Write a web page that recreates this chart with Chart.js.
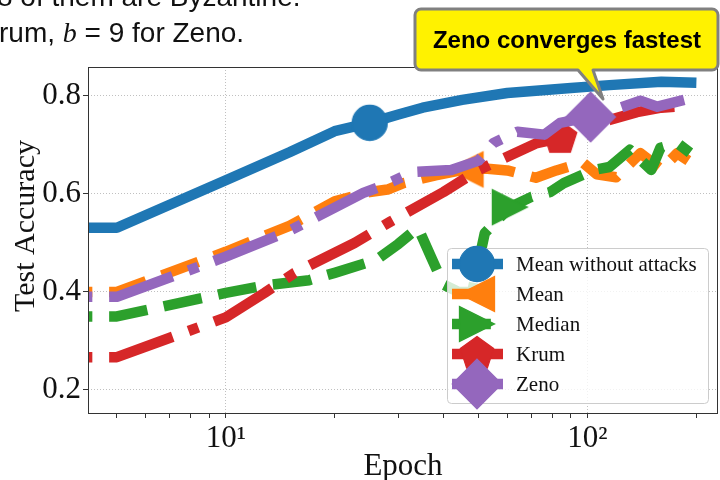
<!DOCTYPE html>
<html>
<head>
<meta charset="utf-8">
<script src="https://cdn.jsdelivr.net/npm/chart.js@4.4.0/dist/chart.umd.min.js"></script>
<style>
  body { margin: 0; background: #fff; }
  #wrap { position: relative; width: 720px; height: 480px; overflow: hidden; }
  canvas { position: absolute; left: 0; top: 0; }
  .slide { position: absolute; font-family: "Liberation Sans", Arial, sans-serif; font-size: 28px;
           line-height: 32px; color: #111; white-space: nowrap; }
  .slide i { font-family: "Liberation Serif", serif; }
</style>
</head>
<body>
<div id="wrap">
  <canvas id="chart" width="720" height="480"></canvas>
  <div class="slide" style="left:-3px; top:-19px;">8 of them are Byzantine.</div>
  <div class="slide" style="left:-1px; top:17px;">rum, <i>b</i> = 9 for Zeno.</div>
</div>
<script>
// series names
const SERIES = ['Mean without attacks', 'Mean', 'Median', 'Krum', 'Zeno'];

// epochs / test accuracy
const NOATTACK_X = [4, 5, 10, 15, 20, 25, 30, 35, 45, 60, 90, 115, 160, 200];
const NOATTACK_Y = [.531, .531, .628, .685, .728, .745, .762, .776, .792, .806, .816, .822, .829, .827];

const MEAN_X = [4, 5, 10, 15, 20, 25, 28, 31, 38, 46, 52, 60, 72, 82, 97, 106, 120, 140, 160, 177, 190];
const MEAN_Y = [.400, .400, .482, .535, .585, .604, .609, .622, .638, .650, .652, .648, .633, .648, .664, .640, .634, .683, .650, .683, .668];

const MEDIAN_X = [4, 5, 10, 13, 17, 20, 26, 30, 34, 37, 40, 44, 48, 52, 61, 70, 79, 86, 104, 115, 131, 140, 150, 159, 177, 192];
const MEDIAN_Y = [.350, .350, .398, .414, .424, .439, .465, .498, .531, .470, .415, .400, .400, .520, .573, .594, .604, .622, .649, .655, .690, .670, .649, .694, .704, .684];

const KRUM_X = [4, 5, 10, 12.8, 15.5, 22.7, 28.6, 40, 50, 60, 72, 84, 94, 115, 137, 160, 190];
const KRUM_Y = [.267, .267, .348, .398, .439, .500, .544, .604, .649, .676, .703, .714, .731, .751, .767, .776, .780];

const ZENO_X = [4, 5, 10, 15, 20, 24, 27, 33, 42, 50, 55, 64, 76, 84, 102, 118, 140, 156, 185];
const ZENO_Y = [.390, .390, .472, .525, .572, .602, .616, .645, .649, .668, .704, .727, .721, .745, .757, .771, .790, .778, .792];

// the one epoch per series that carries a marker
const MARK_AT = [25, 46, 61, 84, 102];

// axis ticks
const X_TICKS = [5, 6, 7, 8, 9, 10, 20, 30, 40, 50, 60, 70, 80, 90, 100, 200];
const X_TICK_LABELS = { 10: '10\u00B9', 100: '10\u00B2' };
const Y_TICKS = [0.2, 0.4, 0.6, 0.8];

const COLORS = ['#1f77b4', '#ff7f0e', '#2ca02c', '#d62728', '#9467bd'];
const LW = 10.5;
const DASHED = [3.7 * LW, 1.6 * LW];
const DASHDOT = [6.4 * LW, 1.6 * LW, 1 * LW, 1.6 * LW];
const DASHES = [[], DASHED, DASHED, DASHDOT, DASHDOT];
const SHAPES = ['circle', 'tri-left', 'tri-right', 'pentagon', 'diamond'];
const SERIF = '"Liberation Serif", "Times New Roman", serif';

function shapePath(g, shape, r) {
  g.beginPath();
  if (shape === 'circle') {
    g.arc(0, 0, r, 0, Math.PI * 2);
  } else if (shape === 'tri-left') {
    g.moveTo(-r, 0); g.lineTo(r, -r); g.lineTo(r, r); g.closePath();
  } else if (shape === 'tri-right') {
    g.moveTo(r, 0); g.lineTo(-r, r); g.lineTo(-r, -r); g.closePath();
  } else if (shape === 'pentagon') {
    for (let i = 0; i < 5; i++) {
      const a = -Math.PI / 2 + i * 2 * Math.PI / 5;
      if (i === 0) g.moveTo(r * Math.cos(a), r * Math.sin(a));
      else g.lineTo(r * Math.cos(a), r * Math.sin(a));
    }
    g.closePath();
  } else if (shape === 'diamond') {
    const d = r * Math.SQRT2;
    g.moveTo(0, -d); g.lineTo(d, 0); g.lineTo(0, d); g.lineTo(-d, 0); g.closePath();
  }
}

function markerCanvas(shape, color) {
  const c = document.createElement('canvas');
  c.width = c.height = 56;
  const g = c.getContext('2d');
  g.translate(28, 28);
  shapePath(g, shape, 17.5);
  g.fillStyle = color;
  g.fill();
  g.strokeStyle = color;
  g.lineWidth = 1.3;
  g.stroke();
  return c;
}
const MARKERS = SHAPES.map((s, i) => markerCanvas(s, COLORS[i]));

function pts(xs, ys) { return xs.map((x, i) => ({ x: x, y: ys[i] })); }
const DATA = [
  pts(NOATTACK_X, NOATTACK_Y),
  pts(MEAN_X, MEAN_Y),
  pts(MEDIAN_X, MEDIAN_Y),
  pts(KRUM_X, KRUM_Y),
  pts(ZENO_X, ZENO_Y)
];

const datasets = SERIES.map((name, i) => ({
  label: name,
  data: DATA[i],
  borderColor: COLORS[i],
  backgroundColor: COLORS[i],
  borderWidth: LW,
  borderDash: DASHES[i],
  borderDashOffset: 84,
  borderCapStyle: 'butt',
  borderJoinStyle: 'round',
  tension: 0,
  fill: false,
  clip: 0,
  order: 5 - i,
  pointStyle: MARKERS[i],
  pointRadius: ctx => (ctx.raw && ctx.raw.x === MARK_AT[i]) ? 18 : 0,
  pointHoverRadius: 0,
  pointBorderWidth: 0
}));

function roundRect(ctx, x, y, w, h, r) {
  ctx.beginPath();
  ctx.moveTo(x + r, y);
  ctx.lineTo(x + w - r, y);
  ctx.arcTo(x + w, y, x + w, y + r, r);
  ctx.lineTo(x + w, y + h - r);
  ctx.arcTo(x + w, y + h, x + w - r, y + h, r);
  ctx.lineTo(x + r, y + h);
  ctx.arcTo(x, y + h, x, y + h - r, r);
  ctx.lineTo(x, y + r);
  ctx.arcTo(x, y, x + r, y, r);
  ctx.closePath();
}

const decorations = {
  id: 'decorations',
  afterDatasetsDraw(chart) {
    const ctx = chart.ctx;
    const a = chart.chartArea;
    ctx.save();
    // axes frame
    ctx.strokeStyle = '#333';
    ctx.lineWidth = 1;
    ctx.strokeRect(Math.round(a.left) + 0.5, Math.round(a.top) + 0.5,
                   Math.round(a.right - a.left) - 1, Math.round(a.bottom - a.top));
    // legend
    roundRect(ctx, 447.5, 248.5, 261, 155, 4);
    ctx.fillStyle = 'rgba(255,255,255,0.8)';
    ctx.fill();
    ctx.strokeStyle = '#cccccc';
    ctx.lineWidth = 1;
    ctx.stroke();
    SERIES.forEach((name, i) => {
      const y = 264 + i * 30;
      ctx.save();
      ctx.beginPath();
      ctx.moveTo(452, y);
      ctx.lineTo(503, y);
      ctx.strokeStyle = COLORS[i];
      ctx.lineWidth = LW;
      ctx.setLineDash(DASHES[i]);
      ctx.stroke();
      ctx.restore();
      ctx.drawImage(MARKERS[i], 477 - 28, y - 28);
      ctx.fillStyle = '#111';
      ctx.font = '21px ' + SERIF;
      ctx.textBaseline = 'middle';
      ctx.textAlign = 'left';
      ctx.fillText(name, 516, y + 1);
    });
    ctx.restore();
  },
  afterDraw(chart) {
    const ctx = chart.ctx;
    ctx.save();
    // axis titles
    ctx.fillStyle = '#111';
    ctx.font = '31px ' + SERIF;
    ctx.textAlign = 'center';
    ctx.textBaseline = 'alphabetic';
    ctx.fillText('Epoch', 403, 475);
    ctx.translate(34, 226);
    ctx.rotate(-Math.PI / 2);
    ctx.font = '30px ' + SERIF;
    ctx.fillText('Test Accuracy', 0, 0);
    ctx.restore();

    // callout
    ctx.save();
    const x0 = 415, y0 = 9, x1 = 718, y1 = 70, r = 6;
    ctx.beginPath();
    ctx.moveTo(x0 + r, y0);
    ctx.lineTo(x1 - r, y0);
    ctx.arcTo(x1, y0, x1, y0 + r, r);
    ctx.lineTo(x1, y1 - r);
    ctx.arcTo(x1, y1, x1 - r, y1, r);
    ctx.lineTo(593, y1);
    ctx.lineTo(603, 99);
    ctx.lineTo(578, y1);
    ctx.lineTo(x0 + r, y1);
    ctx.arcTo(x0, y1, x0, y1 - r, r);
    ctx.lineTo(x0, y0 + r);
    ctx.arcTo(x0, y0, x0 + r, y0, r);
    ctx.closePath();
    ctx.fillStyle = '#fff200';
    ctx.fill();
    ctx.strokeStyle = '#808080';
    ctx.lineWidth = 3;
    ctx.lineJoin = 'round';
    ctx.stroke();
    ctx.fillStyle = '#000';
    ctx.font = 'bold 24px "Liberation Sans", Arial, sans-serif';
    ctx.textAlign = 'center';
    ctx.textBaseline = 'alphabetic';
    ctx.fillText('Zeno converges fastest', 567, 48);
    ctx.restore();
  }
};

new Chart(document.getElementById('chart'), {
  type: 'line',
  data: { datasets: datasets },
  options: {
    responsive: false,
    animation: false,
    events: [],
    layout: { padding: { top: 67, right: 2, left: 0, bottom: 0 } },
    plugins: { legend: { display: false }, tooltip: { enabled: false } },
    scales: {
      x: {
        type: 'logarithmic',
        bounds: 'data',
        min: 4.16,
        max: 229.5,
        afterBuildTicks: s => { s.ticks = X_TICKS.map(v => ({ value: v })); },
        afterFit: s => { s.height = 67; },
        ticks: {
          autoSkip: false, maxRotation: 0, minRotation: 0, padding: 2,
          color: '#111', font: { family: SERIF, size: 31 },
          callback: v => X_TICK_LABELS[v] || ''
        },
        grid: {
          color: c => (c.tick && X_TICK_LABELS[c.tick.value]) ? '#b0b0b0' : 'rgba(0,0,0,0)',
          lineWidth: 0.8, tickColor: '#333', tickLength: 5, tickWidth: 1
        },
        border: { display: false, dash: [1, 2] }
      },
      y: {
        type: 'linear',
        bounds: 'data',
        min: 0.153,
        max: 0.859,
        afterBuildTicks: s => { s.ticks = Y_TICKS.map(v => ({ value: v })); },
        afterFit: s => { s.width = 88; },
        ticks: {
          padding: 2, color: '#111', font: { family: SERIF, size: 31 },
          callback: v => v.toFixed(1)
        },
        grid: { color: '#b0b0b0', lineWidth: 0.8, tickColor: '#333', tickLength: 5, tickWidth: 1 },
        border: { display: false, dash: [1, 2] }
      }
    }
  },
  plugins: [decorations]
});
</script>
</body>
</html>
